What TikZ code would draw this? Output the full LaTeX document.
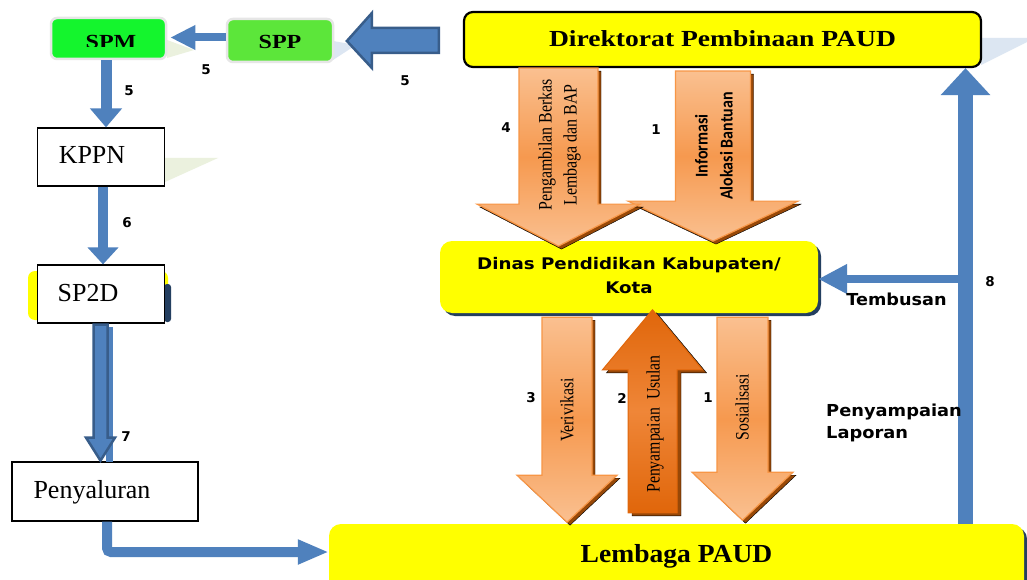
\documentclass[tikz,border=0pt]{standalone}
\usepackage{fontspec}
\setmainfont{Liberation Serif}
\newfontfamily\vsans{DejaVu Sans}
\newfontfamily\calib{Carlito}
\usetikzlibrary{arrows.meta,calc}
\definecolor{blu}{HTML}{4F81BD}
\definecolor{dblu}{HTML}{385D8A}
\definecolor{navy}{HTML}{243F60}
\definecolor{ylw}{HTML}{FFFF00}
\definecolor{orL}{HTML}{FAC090}
\definecolor{orM}{HTML}{F6994F}
\definecolor{orB}{HTML}{F79646}
\definecolor{orD}{HTML}{E0660A}
\definecolor{orDM}{HTML}{EF8638}
\definecolor{brn}{HTML}{984807}
\definecolor{gSPM}{HTML}{14F52D}
\definecolor{gSPP}{HTML}{5CE63A}
\definecolor{gry}{HTML}{E6E6E6}
\definecolor{pgrn}{HTML}{EBF1DE}
\definecolor{pblu}{HTML}{DCE6F2}
% vertical block arrow: style, start (centre of tail), half shaft, shaft length, half head, head length
\newcommand{\vblock}[6]{\draw[#1] (#2) ++({-(#3)},0) -- ++(0,#4) -- ++({(#3)-(#5)},0) -- ++(#5,#6) -- ++(#5,{-(#6)}) -- ++({(#3)-(#5)},0) -- ++(0,{-(#4)}) -- cycle;}
\begin{document}
\begin{tikzpicture}[x=1pt,y=-1pt,
  wbox/.style={draw=black, line width=1.2pt, fill=white, inner sep=0pt},
  ybox/.style={fill=ylw, rounded corners=12pt, inner sep=0pt},
  gbox/.style={draw=gry, line width=2.5pt, rounded corners=6pt, inner sep=0pt},
  serifT/.style={font=\fontsize{26}{30}\selectfont, inner sep=0pt},
  bserifT/.style={font=\bfseries\fontsize{20}{24}\selectfont, inner sep=0pt},
  numT/.style={font=\vsans\bfseries\fontsize{13.5}{16}\selectfont, inner sep=0pt},
  sansT/.style={font=\vsans\bfseries\fontsize{16.5}{22}\selectfont, inner sep=0pt},
  rotT/.style={rotate=90, inner sep=0pt, font=\fontsize{19}{25}\selectfont},
  orarrow/.style={draw=orB, line width=1.2pt, top color=orL, bottom color=orL, middle color=orM},
  ordarrow/.style={draw=orD, line width=1pt, top color=orD, bottom color=orD, middle color=orDM},
  shad/.style={fill=brn},
  bline/.style={draw=blu, line width=#1},
]
\clip (0,0) rectangle (1027,580);
\fill[white] (0,0) rectangle (1027,580);

% pale decorative tails
\fill[pgrn] (167,40) -- (194,50) -- (167,58) -- cycle;
\fill[pblu] (333,41) -- (356,45) -- (333,60) -- cycle;
\fill[pgrn] (165,158) -- (218,158) -- (165,182) -- cycle;
\fill[pblu] (981,38) -- (1027,38) -- (1027,42) -- (981,65) -- cycle;

% backing of SP2D
\fill[ylw, rounded corners=7pt] (28,271) rectangle (168,320);
\fill[navy, rounded corners=3pt] (164,284) rectangle (171,322);

% shadows of yellow boxes
\fill[navy, rounded corners=12pt] (443,244) rectangle (821,316);
\fill[navy, rounded corners=12pt] (332,527) rectangle (1027,600);

% boxes
\node[ybox, draw=black, line width=2.2pt, rounded corners=9pt, minimum width=517pt, minimum height=55pt] (dir) at (722.5,39.5) {};
\node[ybox, minimum width=378pt, minimum height=72pt] (dinas) at (629,277) {};
\node[ybox, minimum width=695pt, minimum height=76pt] (lemb) at (676.5,562) {};
\node[gbox, fill=gSPM, minimum width=115pt, minimum height=41pt] (spm) at (108.5,38.5) {};
\node[gbox, fill=gSPP, minimum width=106pt, minimum height=43pt] (spp) at (280,40.5) {};
\node[wbox, minimum width=127pt, minimum height=58pt] (kppn) at (101,157) {};
\node[wbox, minimum width=127pt, minimum height=58pt] (sp2d) at (101,294) {};
\node[wbox, minimum width=186pt, minimum height=59pt] (peny) at (105,491.5) {};

% box texts
\node[font=\bfseries\fontsize{23}{28}\selectfont, inner sep=0pt, anchor=base] (dirT) at ([yshift=-7.5pt]dir.center) {\scalebox{1.2}[1]{Direktorat Pembinaan PAUD}};
\node[font=\vsans\bfseries\fontsize{16}{24}\selectfont, inner sep=0pt] (dinT) at (dinas.center) {\scalebox{1.14}[1]{\begin{tabular}{@{}c@{}}Dinas Pendidikan Kabupaten/\\Kota\end{tabular}}};
\node[font=\bfseries\fontsize{26}{30}\selectfont, inner sep=0pt, anchor=base] (lembT) at (lemb.center) {\scalebox{1.06}[1]{Lembaga PAUD}};
\begin{scope}
  \clip (spm.north west) rectangle ($(spm.east)+(0,8)$);
  \node[bserifT, anchor=base] (spmT) at ([xshift=2.5pt,yshift=-10pt]spm.center) {\scalebox{1.2}[1]{SPM}};
\end{scope}
\node[bserifT, anchor=base] (sppT) at ([yshift=-8pt]spp.center) {\scalebox{1.2}[1]{SPP}};
\node[serifT, anchor=base] (kppnT) at ([xshift=-9pt,yshift=-7pt]kppn.center) {KPPN};
\node[serifT, anchor=base] (sp2dT) at ([xshift=-13pt,yshift=-7.5pt]sp2d.center) {SP2D};
\node[serifT, anchor=base] (penyT) at ([xshift=-13pt,yshift=-7pt]peny.center) {Penyaluran};

% big blue block arrow Direktorat -> SPP
\draw[draw=dblu, line width=2.5pt, fill=blu] ([xshift=-24pt,yshift=-1pt]dir.west) ++(0,-12.5) -- ++(-67,0) -- ++(0,-15) -- ++(-25,28) -- ++(25,27) -- ++(0,-15) -- ++(67,0) -- cycle;

% blue connectors
\draw[bline=8pt, -{Triangle[length=25pt,width=23pt]}, shorten >=3pt] ([yshift=3pt]spp.west) -- ([yshift=3pt]spp.west -| spm.east);
\draw[bline=11pt, -{Triangle[length=19pt,width=31pt]}] ([xshift=-2.5pt]spm.south) -- ([xshift=-2.5pt]spm.south |- kppn.north);
\draw[bline=10pt, -{Triangle[length=17pt,width=30pt]}] ([xshift=2pt]kppn.south) -- ([xshift=2pt]kppn.south |- sp2d.north);
\fill[blu] (106,327) rectangle (113,462);
\vblock{draw=dblu, line width=2.5pt, fill=blu}{$(sp2d.south)+(-0.5,1)$}{7}{113}{14.5}{23}
\draw[bline=10pt, rounded corners=4pt, -{Triangle[length=31pt,width=23pt]}] ([xshift=2pt]peny.south) |- ([yshift=10pt]lemb.west);
\coordinate (x8) at (965.5,0);
\draw[bline=15pt, -{Triangle[length=27pt,width=48pt]}] (lemb.north -| x8) -- (dir.south -| x8);
\draw[bline=8pt, -{Triangle[length=29pt,width=28pt]}] ([yshift=-2pt]dinas.east -| x8) -- ([yshift=-2pt]dinas.east);

% orange arrows top
\coordinate (a1) at ([xshift=-9.5pt,yshift=-3pt]dir.south);
\coordinate (a4) at ([xshift=-164pt]dir.south);
\vblock{shad}{$(a1)+(3,3)$}{37.5}{130}{85}{40}
\vblock{orarrow}{a1}{37.5}{130}{85}{40}
\vblock{shad}{$(a4)+(3,3)$}{39.5}{136}{81.5}{42}
\vblock{orarrow}{a4}{39.5}{136}{81.5}{42}

% orange arrows bottom
\coordinate (av) at ([xshift=-62pt,yshift=-4pt]dinas.south);
\coordinate (as) at ([xshift=113.5pt,yshift=-4pt]dinas.south);
\coordinate (au) at ([xshift=-24pt,yshift=11pt]lemb.north);
\vblock{shad}{$(av)+(3,3)$}{25}{158}{50}{47}
\vblock{orarrow}{av}{25}{158}{50}{47}
\vblock{shad}{$(as)+(3,3)$}{25.5}{155}{50.5}{48}
\vblock{orarrow}{as}{25.5}{155}{50.5}{48}
\vblock{shad}{$(au)+(4,3)$}{24.5}{-143}{50}{-60}
\vblock{ordarrow}{au}{24.5}{-143}{50}{-60}

% arrow texts
\node[rotT] (t4) at (559,145) {\scalebox{0.84}[1]{\begin{tabular}{@{}c@{}}Pengambilan Berkas\\Lembaga dan BAP\end{tabular}}};
\node[rotT, font=\calib\bfseries\fontsize{18}{25}\selectfont] (t1) at (715,146) {\scalebox{0.89}[1]{\begin{tabular}{@{}c@{}}Informasi\\Alokasi Bantuan\end{tabular}}};
\node[rotT] (tV) at (567,410) {\scalebox{0.83}[1]{Verivikasi}};
\node[rotT] (tU) at (655,424) {\scalebox{0.83}[1]{Penyampaian\ \ Usulan}};
\node[rotT] (tS) at (742,407) {\scalebox{0.83}[1]{Sosialisasi}};

% side texts
\node[sansT, anchor=base] (tembT) at (896.5,305) {\scalebox{1.07}[1]{Tembusan}};
\node[sansT, anchor=west] (lapT) at (826,423) {\scalebox{1.08}[1]{\begin{tabular}{@{}l@{}}Penyampaian\\Laporan\end{tabular}}};

% step numbers
\node[numT] (n5a) at (206,70) {5};
\node[numT] (n5b) at (405,81) {5};
\node[numT] (n5c) at (129,91) {5};
\node[numT] (n6) at (127,223) {6};
\node[numT] (n7) at (126,437) {7};
\node[numT] (n4) at (506,128) {4};
\node[numT] (n1a) at (656,130) {1};
\node[numT] (n3) at (531,398) {3};
\node[numT] (n2) at (622,398) {2};
\node[numT] (n1b) at (708,398) {1};
\node[numT] (n8) at (990,282) {8};
\end{tikzpicture}
\end{document}
